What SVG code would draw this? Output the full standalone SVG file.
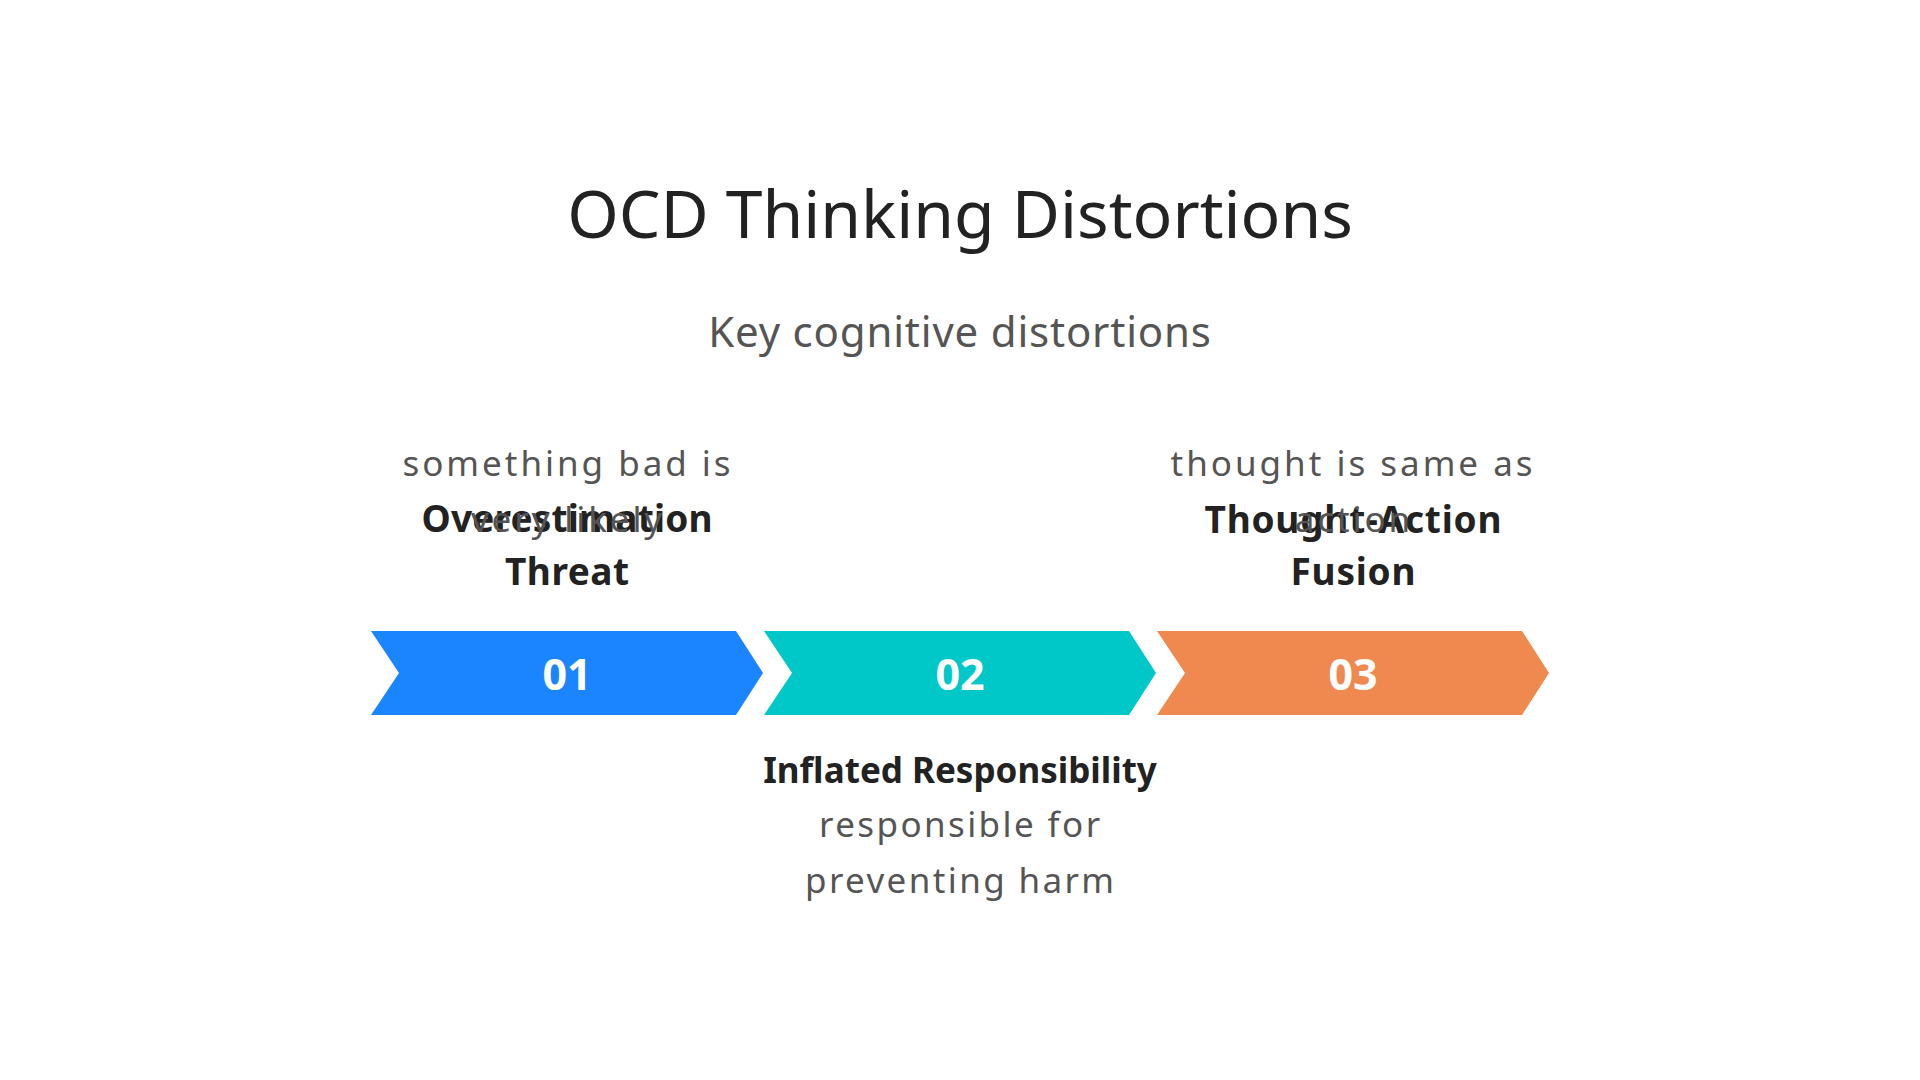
<svg xmlns="http://www.w3.org/2000/svg" width="1920" height="1080" viewBox="0 0 1920 1080">
<style>
.bg{fill:#ffffff}
.title{font-family:"Noto Sans","Open Sans","DejaVu Sans",sans-serif;font-size:66px;fill:#222222;text-anchor:middle}
.sub{font-family:"Noto Sans","Open Sans","DejaVu Sans",sans-serif;font-size:42px;fill:#555555;text-anchor:middle;letter-spacing:0.8px}
.num{font-family:"Noto Sans","Open Sans","DejaVu Sans",sans-serif;font-size:43px;font-weight:bold;fill:#ffffff;text-anchor:middle}
.head{font-family:"Noto Sans","Open Sans","DejaVu Sans",sans-serif;font-size:37px;font-weight:bold;fill:#222222;text-anchor:middle}
.desc{font-family:"Noto Sans","Open Sans","DejaVu Sans",sans-serif;font-size:35px;fill:#555555;text-anchor:middle;letter-spacing:2.9px}
</style>
<rect class="bg" x="0" y="0" width="1920" height="1080"/>
<g id="header">
<text class="title" x="960" y="238">OCD Thinking Distortions</text>
<text class="sub" x="960" y="347">Key cognitive distortions</text>
</g>
<g id="node-01">
<path d="M371,631 L736,631 L763,673 L736,715 L371,715 L399,673 Z" fill="#1A85FF"/>
<text class="num" x="567" y="690">01</text>
<text class="head" x="567" y="532" textLength="291" lengthAdjust="spacing">Overestimation</text>
<text class="head" x="567" y="585" textLength="124" lengthAdjust="spacing">Threat</text>
<text class="desc" x="568" y="476" textLength="331" lengthAdjust="spacing">something bad is</text>
<text class="desc" x="568" y="532">very likely</text>
</g>
<g id="node-02">
<path d="M764,631 L1129,631 L1156,673 L1129,715 L764,715 L792,673 Z" fill="#00C8C8"/>
<text class="num" x="960" y="690">02</text>
<text class="head" x="960" y="783" style="font-size:35px">Inflated Responsibility</text>
<text class="desc" x="961" y="837" textLength="284" lengthAdjust="spacing">responsible for</text>
<text class="desc" x="961" y="893" textLength="312" lengthAdjust="spacing">preventing harm</text>
</g>
<g id="node-03">
<path d="M1157,631 L1522,631 L1549,673 L1522,715 L1157,715 L1185,673 Z" fill="#F0894F"/>
<text class="num" x="1353" y="690">03</text>
<text class="head" x="1353" y="533" textLength="297" lengthAdjust="spacing">Thought-Action</text>
<text class="head" x="1353" y="585" textLength="125" lengthAdjust="spacing">Fusion</text>
<text class="desc" x="1353" y="476" textLength="365" lengthAdjust="spacing">thought is same as</text>
<text class="desc" x="1354" y="532">action</text>
</g>
<g id="connectors"></g>
</svg>
